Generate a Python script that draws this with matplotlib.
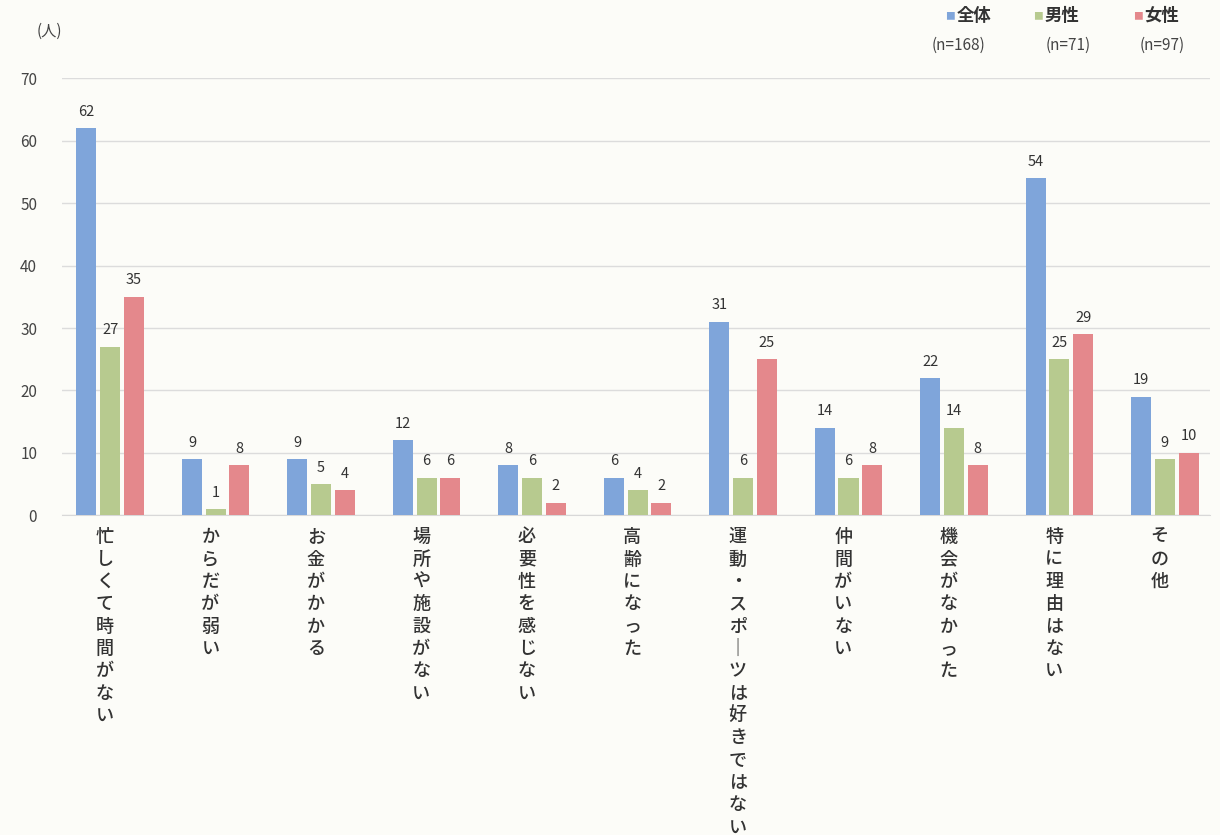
import numpy as np
import matplotlib.pyplot as plt

plt.rcParams['font.family'] = ['Noto Sans CJK JP', 'DejaVu Sans']

categories = ['忙しくて時間がない', 'からだが弱い', 'お金がかかる', '場所や施設がない',
              '必要性を感じない', '高齢になった', '運動・スポーツは好きではない',
              '仲間がいない', '機会がなかった', '特に理由はない', 'その他']
total = [62, 9, 9, 12, 8, 6, 31, 14, 22, 54, 19]
male = [27, 1, 5, 6, 6, 4, 6, 6, 14, 25, 9]
female = [35, 8, 4, 6, 2, 2, 25, 8, 8, 29, 10]
series_names = ['全体', '男性', '女性']
series_n = ['(n=168)', '(n=71)', '(n=97)']
colors = ['#7fa5da', '#b7ca8f', '#e4888c']

fig = plt.figure(figsize=(12.2, 8.35), dpi=100, facecolor='#fcfcf8')
ax = fig.add_axes([0.051, 0.383, 0.941, 0.523], facecolor='#fcfcf8')

x = np.arange(len(categories))
w = 0.19
step = 0.225
for i, vals in enumerate([total, male, female]):
    pos = x + (i - 1) * step
    ax.bar(pos, vals, width=w, color=colors[i], zorder=3)
    for px, v in zip(pos, vals):
        ax.text(px, v + 1.5, str(v), ha='center', va='bottom', fontsize=10.5,
                color='#333333', zorder=4)

ax.set_ylim(0, 70)
ax.set_xlim(-0.455, 10.43)
ax.set_yticks(range(0, 71, 10))
ax.tick_params(axis='y', length=0, labelsize=11, labelcolor='#444444', pad=18)
ax.set_xticks([])
ax.yaxis.grid(True, color='#dcdcdc', linewidth=1, zorder=0)
for s in ['top', 'right', 'left']:
    ax.spines[s].set_visible(False)
ax.spines['bottom'].set_color('#d8d8d8')

# vertical category labels, one character per line
for xi, name in zip(x, categories):
    vert = '\n'.join(name.replace('ー', '｜'))
    ax.text(xi - 0.05, -2.1, vert, ha='center', va='top', fontsize=13,
            linespacing=1.31, color='#333333', fontweight='medium')

fig.text(0.030, 0.962, '(人)', fontsize=11, color='#444444', va='center')

# legend at top right
sq_x = [0.775, 0.847, 0.929]
nx = [0.764, 0.857, 0.934]
for i in range(3):
    fig.text(sq_x[i], 0.981, '■', color=colors[i], fontsize=7, va='center')
    fig.text(sq_x[i] + 0.009, 0.981, series_names[i], fontsize=12.5,
             fontweight='bold', color='#333333', va='center')
    fig.text(nx[i], 0.946, series_n[i], fontsize=11, color='#444444', va='center')

fig.savefig('out.png', dpi=100, facecolor=fig.get_facecolor())
